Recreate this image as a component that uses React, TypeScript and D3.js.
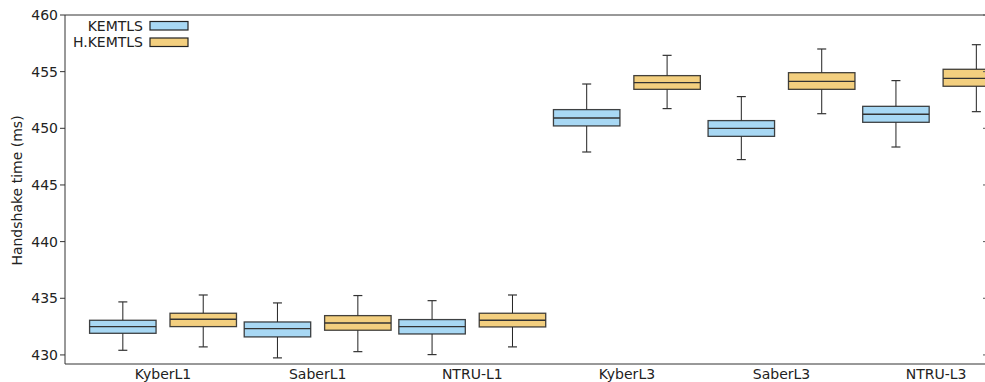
import React from "react";
import * as d3 from "d3";

const categories = ["KyberL1", "SaberL1", "NTRU-L1", "KyberL3", "SaberL3", "NTRU-L3"];
const seriesNames = ["KEMTLS", "H.KEMTLS"];
const seriesColors = ["#a8d8f4", "#f3cf7f"];
// [whiskerLow, q1, median, q3, whiskerHigh]
const kemtls = [
  [430.41, 431.91, 432.5, 433.06, 434.68],
  [429.74, 431.59, 432.32, 432.91, 434.59],
  [430.03, 431.85, 432.5, 433.12, 434.79],
  [447.91, 450.21, 450.91, 451.65, 453.91],
  [447.24, 449.29, 450.0, 450.68, 452.8],
  [448.35, 450.53, 451.24, 451.94, 454.21],
];
const hkemtls = [
  [430.71, 432.5, 433.15, 433.68, 435.29],
  [430.29, 432.18, 432.82, 433.47, 435.24],
  [430.71, 432.47, 433.06, 433.68, 435.29],
  [451.74, 453.44, 454.03, 454.65, 456.44],
  [451.29, 453.44, 454.15, 454.91, 457.0],
  [451.47, 453.71, 454.41, 455.21, 457.38],
];
const yTicks = [430, 435, 440, 445, 450, 455, 460];

const W = 985;
const H = 382;
const left = 65;
const top = 15;
const bottom = 364;
const right = 985;
const font = "DejaVu Sans, sans-serif";
const fs = 14;

export default function App() {
  const x = d3.scaleLinear().domain([-0.634, 5.316]).range([left, right]);
  const y = d3.scaleLinear().domain([429.2, 460]).range([bottom, top]);
  const unit = x(1) - x(0);
  const boxW = 0.43 * unit;
  const offset = 0.26 * unit;
  const capW = 9;
  const series = [kemtls, hkemtls];

  return (
    <svg width={W} height={H} style={{ position: "absolute", left: 0, top: 0, background: "#fff" }}>
      <rect x={0} y={0} width={W} height={H} fill="#fff" />
      {series.map((data, si) =>
        data.map((d, ci) => {
          const cx = x(ci) + (si === 0 ? -offset : offset);
          const [lo, q1, med, q3, hi] = d;
          return (
            <g key={`${si}-${ci}`}>
              <line x1={cx} x2={cx} y1={y(hi)} y2={y(q3)} stroke="#222" strokeWidth={1} />
              <line x1={cx} x2={cx} y1={y(q1)} y2={y(lo)} stroke="#222" strokeWidth={1} />
              <line x1={cx - capW / 2} x2={cx + capW / 2} y1={y(hi)} y2={y(hi)} stroke="#333" strokeWidth={1.2} />
              <line x1={cx - capW / 2} x2={cx + capW / 2} y1={y(lo)} y2={y(lo)} stroke="#333" strokeWidth={1.2} />
              <rect
                x={cx - boxW / 2}
                y={y(q3)}
                width={boxW}
                height={y(q1) - y(q3)}
                fill={seriesColors[si]}
                stroke="#222"
                strokeOpacity={0.85}
                strokeWidth={1.3}
              />
              <line x1={cx - boxW / 2} x2={cx + boxW / 2} y1={y(med)} y2={y(med)} stroke="#333" strokeWidth={1.3} />
            </g>
          );
        })
      )}
      {/* spines */}
      <line x1={left} x2={left} y1={top} y2={bottom} stroke="#333" strokeWidth={1} />
      <line x1={left} x2={right} y1={bottom} y2={bottom} stroke="#333" strokeWidth={1} />
      <line x1={left} x2={right} y1={top} y2={top} stroke="#333" strokeWidth={1} />
      {/* y ticks */}
      {yTicks.map((t) => (
        <g key={t}>
          <line x1={left - 5} x2={left} y1={y(t)} y2={y(t)} stroke="#333" strokeWidth={1} />
          <line x1={right - 2} x2={right} y1={y(t)} y2={y(t)} stroke="#555" strokeWidth={1} />
          <text x={left - 7} y={y(t)} dy="0.35em" textAnchor="end" fontFamily={font} fontSize={fs} fill="#222">
            {t}
          </text>
        </g>
      ))}
      {/* x labels */}
      {categories.map((c, i) => (
        <text key={c} x={x(i)} y={379} textAnchor="middle" fontFamily={font} fontSize={fs} fill="#222">
          {c}
        </text>
      ))}
      <text
        transform={`translate(22, ${(top + bottom) / 2 + 1}) rotate(-90)`}
        textAnchor="middle"
        fontFamily={font}
        fontSize={fs}
        fill="#222"
      >
        Handshake time (ms)
      </text>
      {/* legend */}
      {seriesNames.map((n, i) => (
        <g key={n}>
          <text x={143} y={26 + i * 16.5} dy="0.35em" textAnchor="end" fontFamily={font} fontSize={fs} fill="#222">
            {n}
          </text>
          <rect x={150} y={21.5 + i * 16.5} width={38} height={8.5} fill={seriesColors[i]} stroke="#222" strokeWidth={1.2} />
        </g>
      ))}
    </svg>
  );
}
